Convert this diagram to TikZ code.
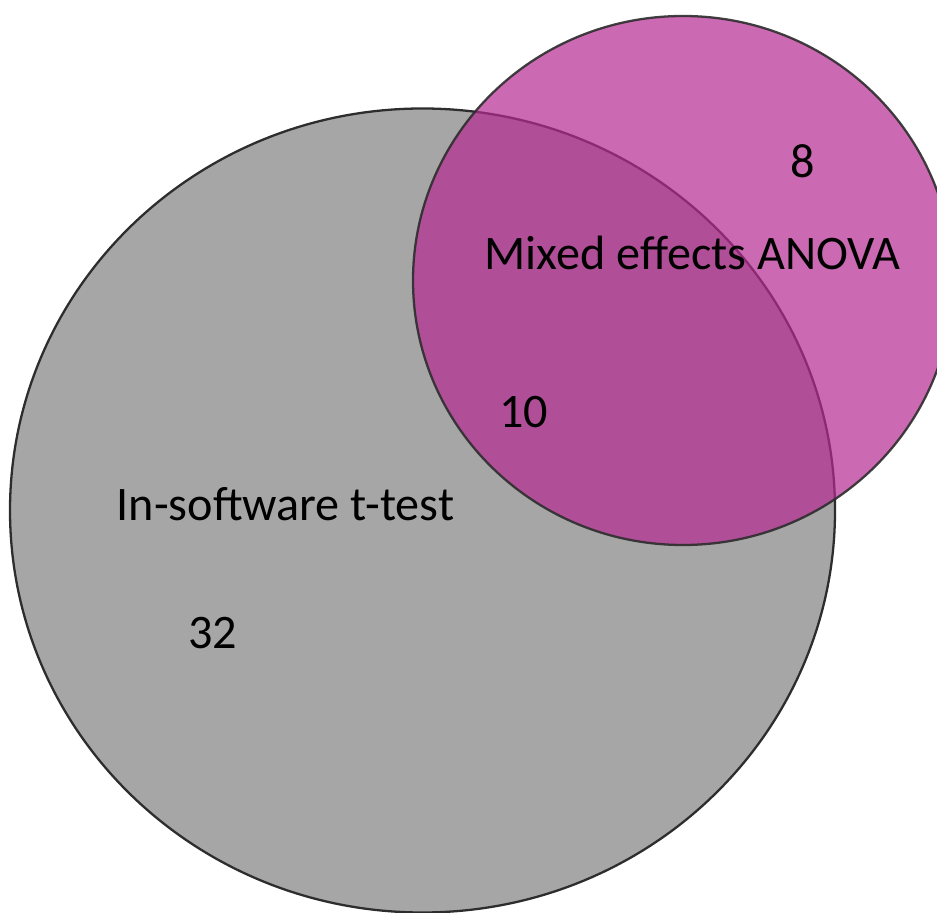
\documentclass[tikz,border=0pt]{standalone}
\usepackage{fontspec}
\setmainfont{Carlito}
\definecolor{setgray}{RGB}{166,166,166}
\definecolor{setmagenta}{RGB}{181,42,145}
\definecolor{rimcol}{RGB}{45,45,45}
\begin{document}
\begin{tikzpicture}[x=0.01cm,y=-0.01cm,
  setfill/.style={line width=0.65pt},
  lbl/.style={anchor=base,inner sep=0pt,font=\fontsize{13.7}{16}\selectfont,text=black}]
\useasboundingbox (0,0) rectangle (937,913);
\begin{scope}
\clip (0,0) rectangle (937,913);
% In-software t-test set
\draw[setfill,fill=setgray,draw=rimcol] (422.5,510.5) ellipse [x radius=412.5, y radius=402];
% Mixed effects ANOVA set, translucent over the first
\draw[setfill,fill=setmagenta,fill opacity=0.7,draw=rimcol,draw opacity=0.9] (683,280.5) ellipse [x radius=270, y radius=264.5];
\end{scope}
\node[lbl] (ttest) at (285.5,521) {In-software t-test};
\node[lbl] (anova) at (692.5,270) {Mixed effects ANOVA};
\node[lbl] (n8) at (802.5,178) {8};
\node[lbl] (n10) at (523.5,428) {10};
\node[lbl] (n32) at (212.5,648) {32};
\end{tikzpicture}
\end{document}
